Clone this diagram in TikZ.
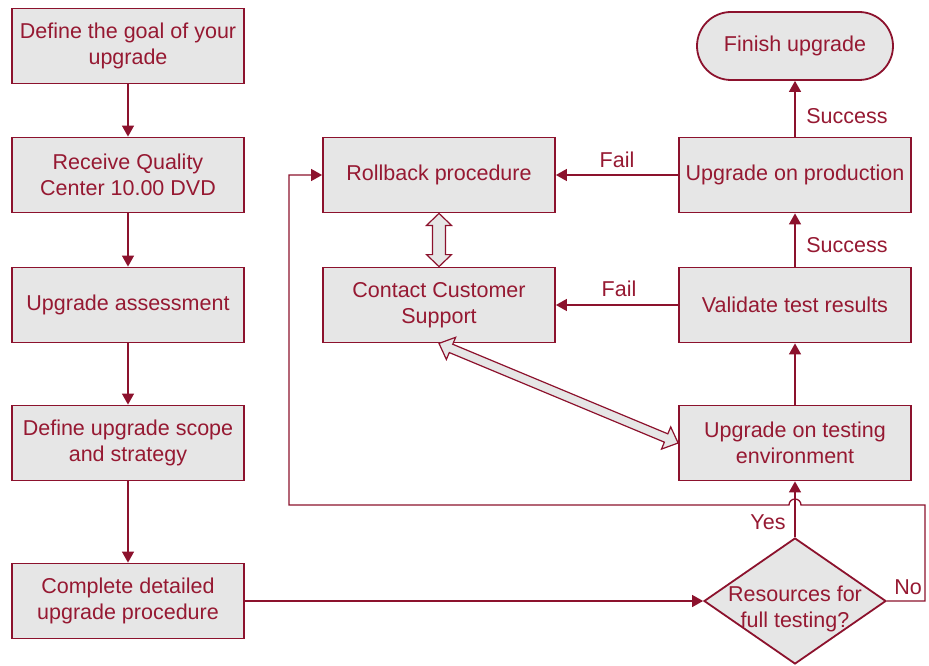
\documentclass[tikz,border=0pt]{standalone}
\usepackage{fontspec}
\setmainfont{Liberation Sans}
\usetikzlibrary{arrows.meta,shapes.geometric,calc}
\definecolor{ln}{RGB}{140,18,45}
\definecolor{tx}{RGB}{150,25,50}
\definecolor{bx}{RGB}{230,230,230}
\newcommand{\hollowdbl}[5]{%
\draw[hollowarrow] (#1)
 -- ($ ($(#1)!#3!(#2)$)!#5!90:(#2) $)
 -- ($ ($(#1)!#3!(#2)$)!#4!90:(#2) $)
 -- ($ ($(#2)!#3!(#1)$)!#4!-90:(#1) $)
 -- ($ ($(#2)!#3!(#1)$)!#5!-90:(#1) $)
 -- (#2)
 -- ($ ($(#2)!#3!(#1)$)!#5!90:(#1) $)
 -- ($ ($(#2)!#3!(#1)$)!#4!90:(#1) $)
 -- ($ ($(#1)!#3!(#2)$)!#4!-90:(#2) $)
 -- ($ ($(#1)!#3!(#2)$)!#5!-90:(#2) $)
 -- cycle;}
\begin{document}
\begin{tikzpicture}[x=1pt,y=-1pt,
  txt/.style={text=tx,font=\fontsize{21.5}{26}\selectfont},
  box/.style={txt,draw=ln,line width=1.8pt,fill=bx,minimum width=232pt,minimum height=75pt,inner sep=0pt,align=center,execute at begin node={\vspace*{4pt}}},
  endbox/.style={box,minimum width=196pt,minimum height=68pt,rounded corners=34pt},
  decision/.style={diamond,draw=ln,line width=1.8pt,fill=bx,minimum width=182pt,minimum height=126pt,inner sep=0pt},
  lbl/.style={txt,inner sep=0pt},
  conn/.style={draw=ln,line width=1.3pt,-{Triangle[length=11pt,width=12pt]}},
  hollowarrow/.style={draw=ln,line width=1.2pt,fill=bx,line join=miter}]
\useasboundingbox (0,0) rectangle (929,666);
\node[box] (b1) at (128,46) {Define the goal of your\\upgrade};
\node[box] (b2) at (128,175) {Receive Quality\\Center 10.00 DVD};
\node[box] (b3) at (128,305) {Upgrade assessment};
\node[box] (b4) at (128,443) {Define upgrade scope\\and strategy};
\node[box] (b5) at (128,601) {Complete detailed\\upgrade procedure};
\node[box] (roll) at (439,175) {Rollback procedure};
\node[box] (cont) at (439,305) {Contact Customer\\Support};
\node[box] (prod) at (795,175) {Upgrade on production};
\node[box] (val) at (795,305) {Validate test results};
\node[box] (test) at (795,443) {Upgrade on testing\\environment};
\node[endbox] (fin) at (795,46) {Finish upgrade};
\node[decision] (dia) at (795,601) {};
\node[lbl,align=center] (diat) at (795,609) {Resources for\\full testing?};
% connectors
\draw[conn] (b1) -- (b2);
\draw[conn] (b2) -- (b3);
\draw[conn] (b3) -- (b4);
\draw[conn] (b4) -- (b5);
\draw[conn] (b5) -- (dia);
\draw[conn] (dia) -- (test);
\draw[conn] (test) -- (val);
\draw[conn] (val) -- (prod);
\draw[conn] (prod) -- (fin);
\draw[conn] (val) -- (cont);
\draw[conn] (prod) -- (roll);
\coordinate (nr) at (925,505);
\coordinate (hop) at (801,505);
\coordinate (nl) at (289,505);
\draw[conn] (dia.east) -| (nr) -- (hop) arc[start angle=0,end angle=-180,radius=6] -- (nl) |- (roll.west);
% hollow double arrows
\hollowdbl{roll.south}{cont.north}{12pt}{6.5pt}{12.5pt}
\hollowdbl{cont.south}{test.west}{13pt}{4.5pt}{12pt}
% labels
\node[lbl] (f1) at (617,160) {Fail};
\node[lbl] (f2) at (619,289) {Fail};
\node[lbl] (s1) at (847,116) {Success};
\node[lbl] (s2) at (847,245) {Success};
\node[lbl] (y1) at (768,522) {Yes};
\node[lbl] (n1) at (908,587) {No};
\end{tikzpicture}
\end{document}
